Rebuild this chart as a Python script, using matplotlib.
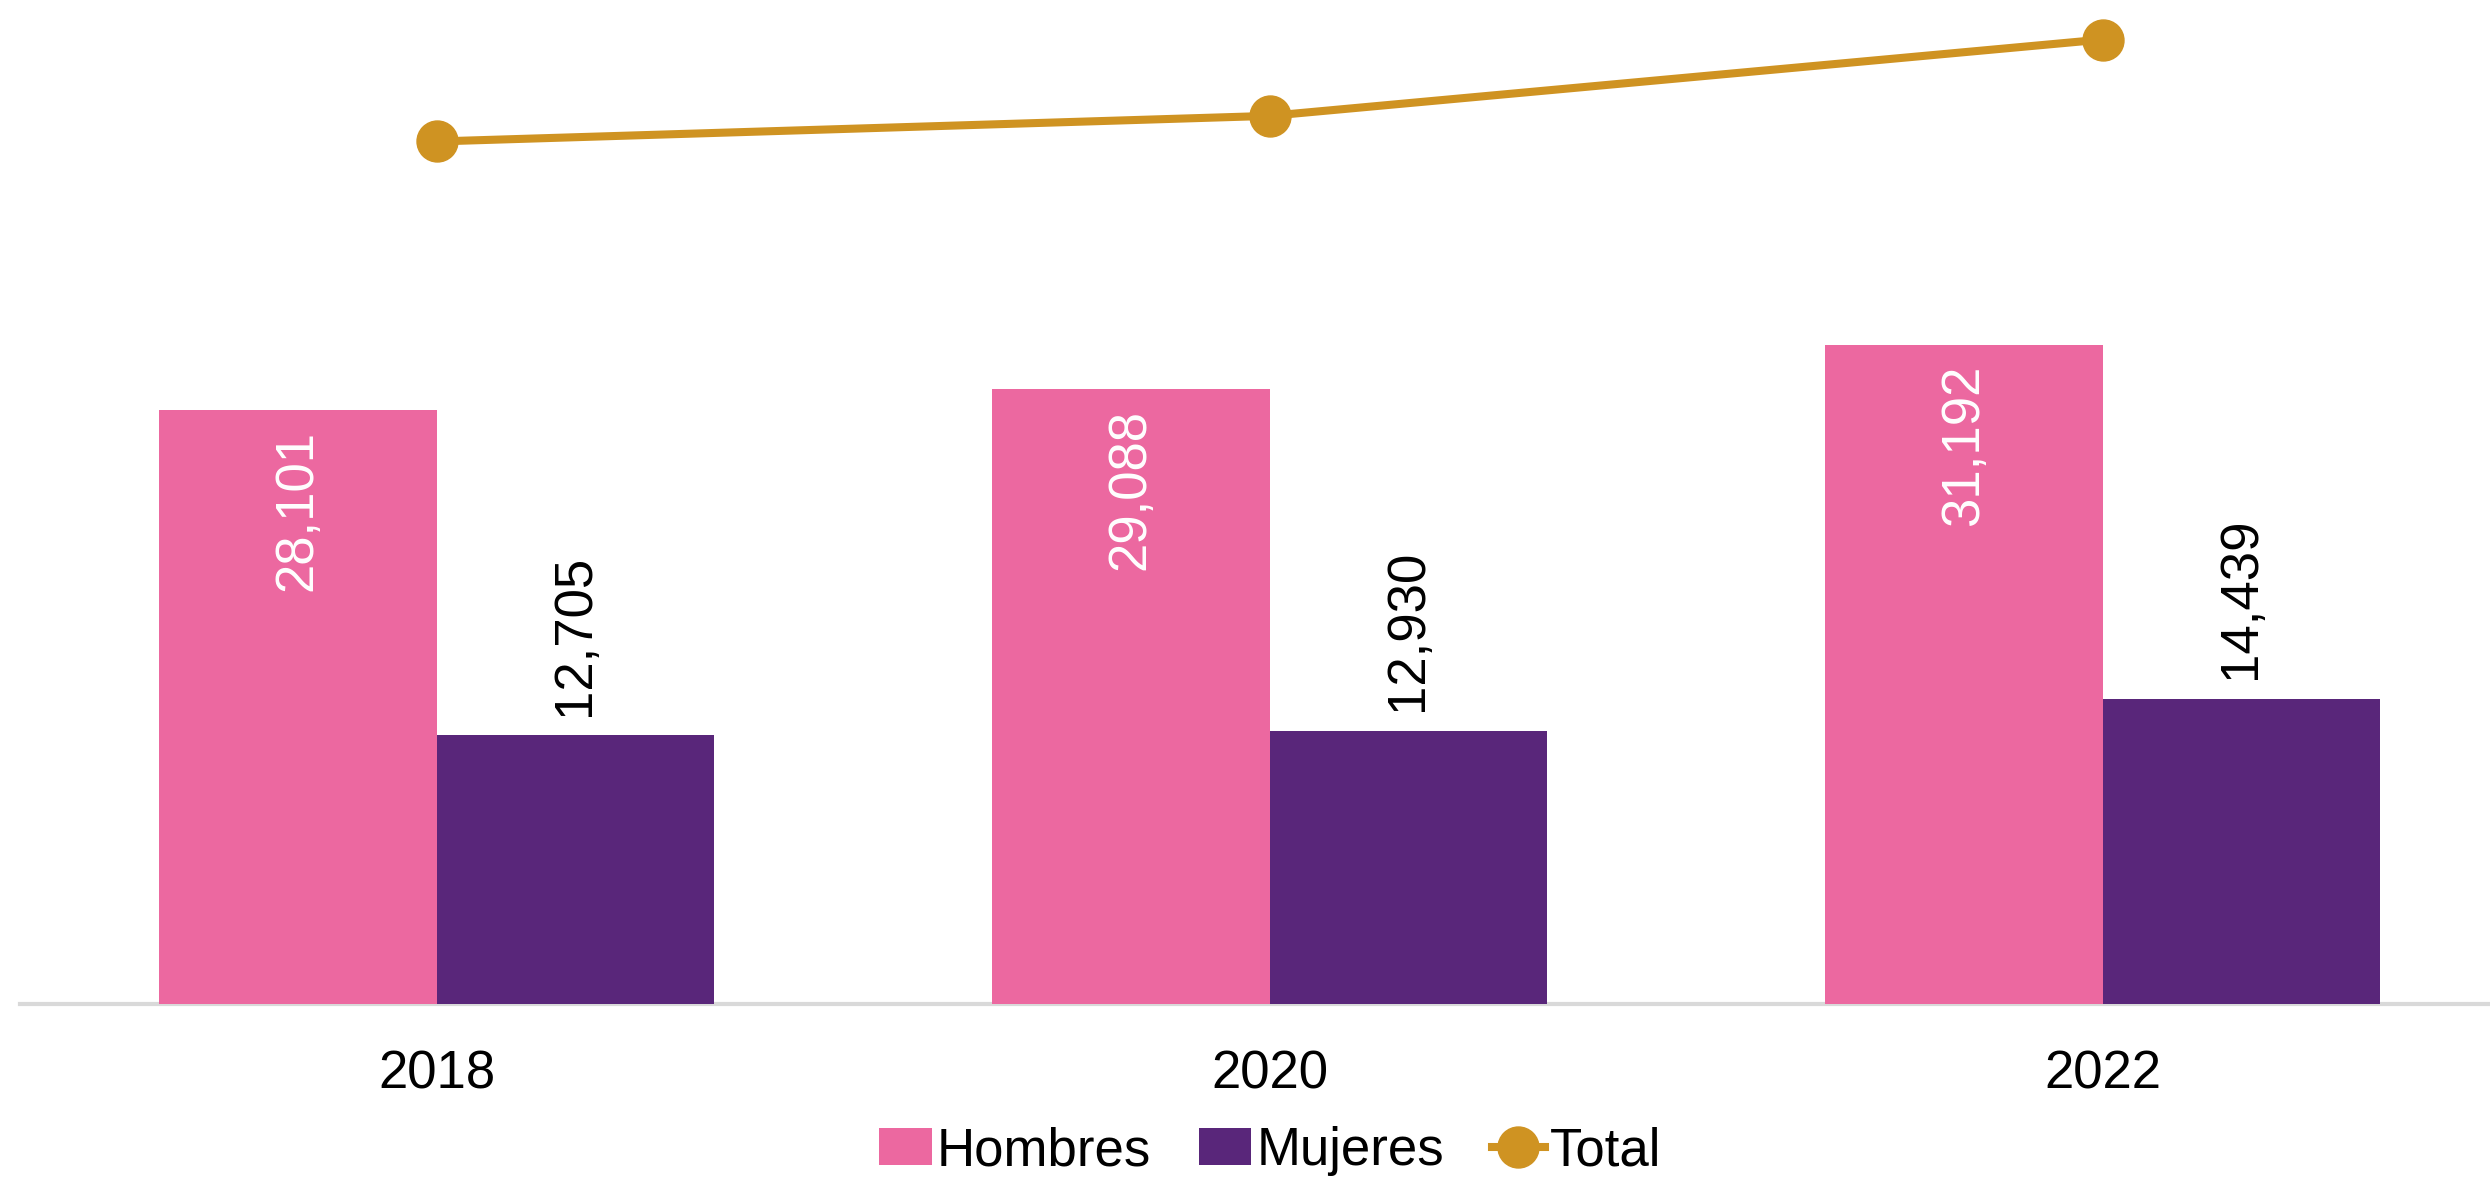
import matplotlib
matplotlib.use("Agg")
import matplotlib.pyplot as plt
import numpy as np

years = ["2018", "2020", "2022"]
hombres = [28101, 29088, 31192]
mujeres = [12705, 12930, 14439]
total = [40806, 42018, 45631]

c_h = "#EC68A0"
c_m = "#59267A"
c_t = "#CF9322"

plt.rcParams['font.family'] = ['Liberation Sans', 'DejaVu Sans']

W, H = 2490, 1178
dpi = 100
fig = plt.figure(figsize=(W / dpi, H / dpi), dpi=dpi)
ax = fig.add_axes([20 / W, (H - 1004) / H, (W - 20) / W, 1004 / H])

x = np.arange(len(years))
bw = 1 / 3
b1 = ax.bar(x - bw / 2, hombres, bw, color=c_h, label="Hombres", zorder=2)
b2 = ax.bar(x + bw / 2, mujeres, bw, color=c_m, label="Mujeres", zorder=2)
l1, = ax.plot(x, total, color=c_t, lw=5.8, marker="o", ms=29.5, label="Total", zorder=3, clip_on=False)

fs = 38
for xi, v in zip(x, hombres):
    ax.annotate(f"{v:,}", (xi - bw / 2, v), xytext=(0, -14), textcoords="offset points",
                ha="center", va="top", rotation=90, color="white", fontsize=fs)
for xi, v in zip(x, mujeres):
    ax.annotate(f"{v:,}", (xi + bw / 2, v), xytext=(0, 14), textcoords="offset points",
                ha="center", va="bottom", rotation=90, color="black", fontsize=fs)

ax.set_xlim(-0.5, -0.5 + (W - 20) / 833)
ax.set_ylim(0, 47500)
ax.set_xticks(x)
ax.set_xticklabels(years, fontsize=fs)
ax.set_yticks([])
ax.tick_params(axis="x", length=0, pad=33)
for s in ["top", "right", "left"]:
    ax.spines[s].set_visible(False)
ax.spines["bottom"].set_color("#D9D9D9")
ax.spines["bottom"].set_linewidth(3)
ax.spines["bottom"].set_zorder(1)

leg = fig.legend([b1, b2, l1], ["Hombres", "Mujeres", "Total"],
                 loc="center", bbox_to_anchor=(1270 / W, 27 / H), ncol=3, frameon=False,
                 fontsize=fs, handlelength=1.0, handleheight=0.7, handletextpad=0.1,
                 columnspacing=0.9, borderaxespad=0)

fig.savefig("out.png", dpi=dpi)
